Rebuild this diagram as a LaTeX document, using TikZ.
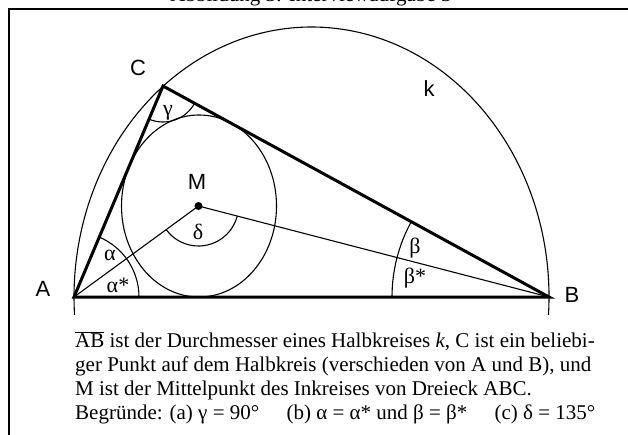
\documentclass[tikz,border=0pt]{standalone}
\usepackage{fontspec}
\setmainfont{Liberation Serif}
\newfontfamily\labelfont{Liberation Sans}
\usetikzlibrary{angles}

\begin{document}
\begin{tikzpicture}[x=1pt,y=1pt]
				\tikzstyle{fine} = [line width=1.1pt]
				\tikzstyle{side} = [line width=3pt, line join=miter]
				\tikzstyle{frame} = [line width=1.6pt]
				\tikzstyle{point} = [font=\labelfont\fontsize{22}{22}\selectfont, inner sep=0]
				\tikzstyle{greek} = [font=\fontsize{22}{22}\selectfont, inner sep=0]
				\tikzstyle{anglemark} = [draw, fine]
				\tikzstyle{task} = [font=\fontsize{21}{24.3}\selectfont, inner sep=0, anchor=base west]
				\useasboundingbox (0,0) rectangle (628,434);
				\clip (0,0) rectangle (628,434);
				\node[task, anchor=base] (title) at (311,432) {Abbildung 3: Interviewaufgabe 3};
				\draw[frame] (9,-10) -- (9,425) -- (640,425);

				\coordinate (A) at (74,137);
				\coordinate (B) at (549,137);
				\coordinate (C) at (163,348);
				\coordinate (M) at (198.5,228);
				\coordinate (O) at (311.5,137);

				\draw[fine] ([shift={(-3.8:237.5 and 270)}]O) arc[start angle=-3.8, end angle=183.8, x radius=237.5, y radius=270];
				\draw[fine] (199,228) ellipse[x radius=77.5, y radius=91];
				\draw[fine] (A) -- (M) -- (B);
				\pic[anglemark, angle radius=65pt] {angle=B--A--C};
				\pic[anglemark, angle radius=157pt] {angle=C--B--A};
				\pic[anglemark, angle radius=36pt] {angle=A--C--B};
				\pic[anglemark, angle radius=40pt] {angle=A--M--B};
				\draw[side] (A) -- (B) -- (C) -- cycle;
				\fill (M) circle (4);

				\node[point] (labelA) at (43,145) {A};
				\node[point] (labelB) at (572,139) {B};
				\node[point] (labelC) at (138,366) {C};
				\node[point] (labelM) at (197,252) {M};
				\node[point] (labelk) at (429,345) {k};
				\node[greek] (gamma) at (168,321) {γ};
				\node[greek] (alpha) at (110,179) {α};
				\node[greek] (alphastar) at (118,149) {α*};
				\node[greek] (beta) at (415,186) {β};
				\node[greek] (betastar) at (415,156) {β*};
				\node[greek] (delta) at (198,202) {δ};

				\node[task] (line1) at (75,87) {$\overline{\mbox{AB}}$ ist der Durchmesser eines Halbkreises \textit{k}, C ist ein beliebi-};
				\node[task] (line2) at (75,62.7) {ger Punkt auf dem Halbkreis (verschieden von A und B), und};
				\node[task] (line3) at (75,38.4) {M ist der Mittelpunkt des Inkreises von Dreieck ABC.};
				\node[task] (line4) at (75,14.1) {Begründe: (a) γ = 90°\hspace{1.3em}(b) α = α* und β = β*\hspace{1.3em}(c) δ = 135°};
			\end{tikzpicture}
\end{document}
